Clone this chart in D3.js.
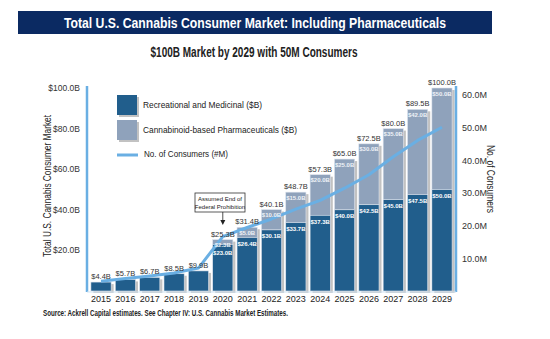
<!DOCTYPE html>
<html>
<head>
<meta charset="utf-8">
<script src="https://cdn.jsdelivr.net/npm/d3@7"></script>
<style>
  body { margin: 0; background: #fff; }
  svg { font-family: "Liberation Sans Narrow", "Liberation Sans", Arial, sans-serif; }
</style>
</head>
<body>
<svg width="550" height="339"></svg>
<script>
var years = [2015, 2016, 2017, 2018, 2019, 2020, 2021, 2022, 2023, 2024, 2025, 2026, 2027, 2028, 2029]
var recreational = [4.4, 5.7, 6.7, 8.5, 9.9, 23.0, 26.4, 30.1, 33.7, 37.3, 40.0, 42.5, 45.0, 47.5, 50.0]
var pharma = [0, 0, 0, 0, 0, 2.3, 5.0, 10.0, 15.0, 20.0, 25.0, 30.0, 35.0, 42.0, 50.0]
var consumers = [3.0, 3.8, 4.6, 5.5, 7.0, 16.6, 19.4, 22.0, 25.0, 27.7, 31.4, 35.5, 41.0, 46.0, 50.0]
var leftTicks = [20, 40, 60, 80, 100]
var rightTicks = [10, 20, 30, 40, 50, 60]

var dark = "#215e8c", light = "#8fa2bb", lineCol = "#6aafe3"
var svg = d3.select("svg")

// title banner
svg.append("rect").attr("x", 18).attr("y", 11).attr("width", 474).attr("height", 23).attr("fill", "#0b2a62")
svg.append("text").attr("x", 255).attr("y", 27.5).attr("text-anchor", "middle")
  .attr("fill", "#fff").attr("font-weight", "bold").attr("font-size", 14.5)
  .attr("textLength", 382).attr("lengthAdjust", "spacingAndGlyphs")
  .text("Total U.S. Cannabis Consumer Market: Including Pharmaceuticals")
svg.append("text").attr("x", 254).attr("y", 57).attr("text-anchor", "middle")
  .attr("fill", "#222").attr("font-weight", "bold").attr("font-size", 14)
  .attr("textLength", 207).attr("lengthAdjust", "spacingAndGlyphs")
  .text("$100B Market by 2029 with 50M Consumers")

var x = d3.scaleBand().domain(years).range([88, 455]).paddingInner(0.17).paddingOuter(0.12)
var yL = d3.scaleLinear().domain([0, 100]).range([291, 88])
var yR = d3.scaleLinear().domain([0, 62]).range([291, 88])

var rows = years.map((yr, i) => ({yr: yr, rec: recreational[i], ph: pharma[i], tot: +(recreational[i] + pharma[i]).toFixed(1), con: consumers[i]}))

// bars with shadow
var g = svg.append("g")
g.selectAll(".shadow").data(rows).enter().append("rect")
  .attr("x", d => x(d.yr) + 2.5).attr("y", d => yL(d.tot) + 2)
  .attr("width", x.bandwidth()).attr("height", d => yL(0) - yL(d.tot))
  .attr("fill", "#9a9a9a").attr("opacity", 0.6)
g.selectAll(".ph").data(rows.filter(d => d.ph > 0)).enter().append("rect")
  .attr("x", d => x(d.yr)).attr("y", d => yL(d.tot))
  .attr("width", x.bandwidth()).attr("height", d => yL(d.rec) - yL(d.tot))
  .attr("fill", light).attr("stroke", "#dfe5ee").attr("stroke-width", 0.6)
g.selectAll(".rec").data(rows).enter().append("rect")
  .attr("x", d => x(d.yr)).attr("y", d => yL(d.rec))
  .attr("width", x.bandwidth()).attr("height", d => yL(0) - yL(d.rec))
  .attr("fill", dark).attr("stroke", "#dfe5ee").attr("stroke-width", 0.6)

// axes lines
svg.append("line").attr("x1", 87).attr("x2", 87).attr("y1", 86).attr("y2", 292)
  .attr("stroke", lineCol).attr("stroke-width", 2.5)
svg.append("line").attr("x1", 456).attr("x2", 456).attr("y1", 86).attr("y2", 292)
  .attr("stroke", lineCol).attr("stroke-width", 2.5)
svg.append("line").attr("x1", 87).attr("x2", 456).attr("y1", 292).attr("y2", 292)
  .attr("stroke", "#cfe3f3").attr("stroke-width", 1)

// tick labels
svg.selectAll(".lt").data(leftTicks).enter().append("text")
  .attr("x", 80).attr("y", d => yL(d) + 3).attr("text-anchor", "end")
  .attr("font-size", 8.5).attr("fill", "#333").text(d => "$" + d.toFixed(1) + "B")
svg.selectAll(".rt").data(rightTicks).enter().append("text")
  .attr("x", 462).attr("y", d => yR(d) + 3.5)
  .attr("font-size", 9).attr("fill", "#333").text(d => d.toFixed(1) + "M")
svg.selectAll(".yr").data(years).enter().append("text")
  .attr("x", d => x(d) + x.bandwidth() / 2).attr("y", 302).attr("text-anchor", "middle")
  .attr("font-size", 9).attr("fill", "#222").text(d => d)

// axis titles
svg.append("text").attr("transform", "translate(51,186) rotate(-90)").attr("text-anchor", "middle")
  .attr("font-size", 10).attr("fill", "#222")
  .attr("textLength", 142).attr("lengthAdjust", "spacingAndGlyphs")
  .text("Total U.S. Cannabis Consumer Market")
svg.append("text").attr("transform", "translate(487,179) rotate(90)").attr("text-anchor", "middle")
  .attr("font-size", 10).attr("fill", "#222")
  .attr("textLength", 68).attr("lengthAdjust", "spacingAndGlyphs")
  .text("No. of Consumers")

// consumers line
var line = d3.line().x(d => x(d.yr) + x.bandwidth() / 2).y(d => yR(d.con))
svg.append("path").attr("d", line(rows)).attr("fill", "none")
  .attr("stroke", lineCol).attr("stroke-width", 3).attr("stroke-linejoin", "round")

// labels
svg.selectAll(".tl").data(rows).enter().append("text")
  .attr("x", d => x(d.yr) + x.bandwidth() / 2).attr("y", d => yL(d.tot) - 3)
  .attr("text-anchor", "middle").attr("font-size", 7.5).attr("fill", "#333")
  .text(d => "$" + d.tot.toFixed(1) + "B")
svg.selectAll(".pl").data(rows.filter(d => d.ph > 0)).enter().append("text")
  .attr("x", d => x(d.yr) + x.bandwidth() / 2).attr("y", d => yL(d.tot) + 7.5)
  .attr("text-anchor", "middle").attr("font-size", 6).attr("font-weight", "bold").attr("fill", "#eef2f7")
  .text(d => "$" + d.ph.toFixed(1) + "B")
svg.selectAll(".rl").data(rows.filter(d => d.ph > 0)).enter().append("text")
  .attr("x", d => x(d.yr) + x.bandwidth() / 2).attr("y", d => Math.max(yL(d.rec) + 8.5, yL(d.tot) + 15))
  .attr("text-anchor", "middle").attr("font-size", 6).attr("font-weight", "bold").attr("fill", "#fff")
  .text(d => "$" + d.rec.toFixed(1) + "B")

// legend
var lg = svg.append("g")
lg.append("rect").attr("x", 119).attr("y", 97).attr("width", 20).attr("height", 20).attr("fill", "#999").attr("opacity", 0.6)
lg.append("rect").attr("x", 117).attr("y", 95).attr("width", 20).attr("height", 20).attr("fill", dark)
lg.append("rect").attr("x", 119).attr("y", 122).attr("width", 20).attr("height", 20).attr("fill", "#999").attr("opacity", 0.6)
lg.append("rect").attr("x", 117).attr("y", 120).attr("width", 20).attr("height", 20).attr("fill", light)
lg.append("line").attr("x1", 117).attr("x2", 138).attr("y1", 155).attr("y2", 155).attr("stroke", lineCol).attr("stroke-width", 3)
lg.append("text").attr("x", 143).attr("y", 108).attr("font-size", 9.5).attr("fill", "#222")
  .attr("textLength", 119).attr("lengthAdjust", "spacingAndGlyphs").text("Recreational and Medicinal ($B)")
lg.append("text").attr("x", 143).attr("y", 133).attr("font-size", 9.5).attr("fill", "#222")
  .attr("textLength", 154).attr("lengthAdjust", "spacingAndGlyphs").text("Cannabinoid-based Pharmaceuticals ($B)")
lg.append("text").attr("x", 144).attr("y", 157).attr("font-size", 9.5).attr("fill", "#222")
  .attr("textLength", 84).attr("lengthAdjust", "spacingAndGlyphs").text("No. of Consumers (#M)")

// annotation
var ax = x(2020) + x.bandwidth() / 2
svg.append("rect").attr("x", 195).attr("y", 193).attr("width", 50).attr("height", 19)
  .attr("fill", "#fff").attr("stroke", "#333").attr("stroke-width", 0.8)
svg.append("text").attr("x", 220).attr("y", 201).attr("text-anchor", "middle").attr("font-size", 6).attr("fill", "#222").text("Assumed End of")
svg.append("text").attr("x", 220).attr("y", 209).attr("text-anchor", "middle").attr("font-size", 6).attr("fill", "#222").text("Federal Prohibition")
svg.append("line").attr("x1", ax).attr("x2", ax).attr("y1", 212).attr("y2", 222).attr("stroke", "#222").attr("stroke-width", 0.8)
svg.append("path").attr("d", `M${ax - 2.5},220 L${ax + 2.5},220 L${ax},225 Z`).attr("fill", "#222")

// source
svg.append("text").attr("x", 43).attr("y", 316).attr("font-size", 8.5).attr("font-weight", "bold").attr("fill", "#222")
  .attr("textLength", 245).attr("lengthAdjust", "spacingAndGlyphs")
  .text("Source: Ackrell Capital estimates. See Chapter IV: U.S. Cannabis Market Estimates.")
</script>
</body>
</html>
